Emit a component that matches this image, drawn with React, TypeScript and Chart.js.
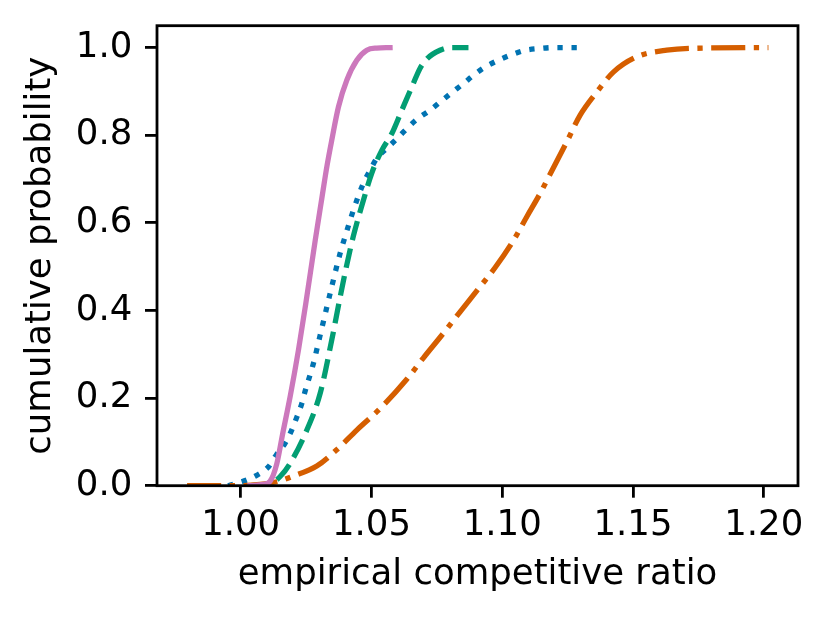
import { useEffect, useRef } from 'react'
import { Chart, registerables } from 'chart.js'

Chart.register(...registerables)

const xTicks = [1.0, 1.05, 1.1, 1.15, 1.2]
const yTicks = [0, 0.2, 0.4, 0.6, 0.8, 1.0]

// pink, solid
const solidX = [1.0036, 1.0086, 1.0112, 1.0138, 1.016, 1.0189, 1.0221, 1.025, 1.0285, 1.031, 1.033, 1.0348, 1.0374, 1.0406, 1.0444, 1.0482, 1.052, 1.0571]
const solidY = [0, 0.003, 0.01, 0.05, 0.117, 0.203, 0.31, 0.42, 0.56, 0.655, 0.73, 0.788, 0.865, 0.926, 0.971, 0.994, 0.999, 1.0]

// green, dashed
const dashedX = [1.0036, 1.0112, 1.0151, 1.0189, 1.0253, 1.0304, 1.0348, 1.038, 1.0406, 1.0431, 1.0469, 1.0501, 1.054, 1.0578, 1.0616, 1.066, 1.0686, 1.0713, 1.0762, 1.0801, 1.0871]
const dashedY = [0, 0.004, 0.021, 0.051, 0.127, 0.211, 0.332, 0.43, 0.505, 0.57, 0.651, 0.713, 0.766, 0.804, 0.857, 0.918, 0.953, 0.975, 0.994, 1.0, 1.0]

// blue, dotted
const dottedX = [0.9952, 1.0023, 1.0062, 1.0106, 1.0138, 1.017, 1.0195, 1.0215, 1.0234, 1.0246, 1.0278, 1.0304, 1.0342, 1.038, 1.0399, 1.0431, 1.0469, 1.0495, 1.052, 1.0559, 1.0597, 1.0635, 1.0673, 1.0724, 1.0763, 1.0807, 1.0852, 1.089, 1.0935, 1.0985, 1.1037, 1.1088, 1.1145, 1.1196, 1.1298]
const dottedY = [0, 0.013, 0.024, 0.043, 0.072, 0.097, 0.127, 0.157, 0.188, 0.215, 0.279, 0.344, 0.439, 0.53, 0.568, 0.629, 0.69, 0.72, 0.747, 0.77, 0.792, 0.815, 0.836, 0.857, 0.876, 0.897, 0.918, 0.937, 0.956, 0.971, 0.984, 0.994, 0.998, 1.0, 1.0]

// orange, dash-dot
const dashDotX = [0.9795, 0.9998, 1.0074, 1.0138, 1.0202, 1.0291, 1.0367, 1.0444, 1.0533, 1.0635, 1.0699, 1.0775, 1.0839, 1.0915, 1.0973, 1.1043, 1.1094, 1.1145, 1.1171, 1.1247, 1.1298, 1.1362, 1.1425, 1.1515, 1.1629, 1.1782, 1.2018]
const dashDotY = [0, 0, 0.003, 0.009, 0.022, 0.045, 0.082, 0.127, 0.176, 0.243, 0.292, 0.348, 0.397, 0.454, 0.498, 0.56, 0.614, 0.667, 0.697, 0.785, 0.846, 0.899, 0.944, 0.979, 0.994, 0.999, 1.0]

const toPoints = (xs: number[], ys: number[]) => xs.map((x, i) => ({ x, y: ys[i] }))

const font = { family: 'DejaVu Sans', size: 35.5, lineHeight: 1.2 }
const LW = 5.3

// matplotlib-like box around the axes
const framePlugin = {
  id: 'frame',
  afterDraw(chart: Chart) {
    const { ctx, chartArea: a } = chart
    ctx.save()
    ctx.strokeStyle = '#000'
    ctx.lineWidth = 2.8
    ctx.strokeRect(a.left, a.top, a.right - a.left, a.bottom - a.top)
    ctx.restore()
  },
}

export default function App() {
  const canvasRef = useRef<HTMLCanvasElement | null>(null)

  useEffect(() => {
    if (!canvasRef.current) return
    const chart = new Chart(canvasRef.current, {
      type: 'line',
      data: {
        datasets: [
          {
            data: toPoints(solidX, solidY),
            borderColor: '#cc78bc',
            borderWidth: LW,
            borderCapStyle: 'square',
            borderJoinStyle: 'round',
          },
          {
            data: toPoints(dashDotX, dashDotY),
            borderColor: '#d55e00',
            borderWidth: LW,
            borderDash: [34.1, 8.5, 5.3, 8.5],
            borderCapStyle: 'butt',
          },
          {
            data: toPoints(dashedX, dashedY),
            borderColor: '#029e73',
            borderWidth: LW,
            borderDash: [19.7, 8.5],
            borderCapStyle: 'butt',
          },
          {
            data: toPoints(dottedX, dottedY),
            borderColor: '#0173b2',
            borderWidth: LW,
            borderDash: [5.3, 8.8],
            borderCapStyle: 'butt',
          },
        ],
      },
      options: {
        responsive: false,
        animation: false,
        events: [],
        layout: { padding: { left: 0, top: 25.7, right: 32, bottom: 0 } },
        elements: {
          point: { radius: 0 },
          line: { tension: 0, cubicInterpolationMode: 'monotone', fill: false },
        },
        plugins: {
          legend: { display: false },
          tooltip: { enabled: false },
        },
        scales: {
          x: {
            type: 'linear',
            min: 0.968,
            max: 1.2131,
            border: { display: false },
            grid: { drawOnChartArea: false, drawTicks: true, tickLength: 12, color: '#000', lineWidth: 2.8 },
            ticks: {
              font,
              color: '#000',
              padding: 6.7,
              maxRotation: 0,
              autoSkip: false,
              callback: (v) => Number(v).toFixed(2),
            },
            afterBuildTicks: (s) => {
              s.ticks = xTicks.map((value) => ({ value }))
            },
            afterFit: (s) => {
              s.height = 621 - 485.7
              s.paddingLeft = 0
              s.paddingRight = 0
            },
            title: {
              display: true,
              text: 'empirical competitive ratio',
              font,
              color: '#000',
              padding: { top: 0, bottom: 24.7 },
            },
          },
          y: {
            type: 'linear',
            min: 0,
            max: 1.05,
            border: { display: false },
            grid: { drawOnChartArea: false, drawTicks: true, tickLength: 12, color: '#000', lineWidth: 2.8 },
            ticks: {
              font,
              color: '#000',
              padding: 12.7,
              autoSkip: false,
              callback: (v) => Number(v).toFixed(1),
            },
            afterBuildTicks: (s) => {
              s.ticks = yTicks.map((value) => ({ value }))
            },
            afterFit: (s) => {
              s.width = 157
              s.paddingTop = 0
              s.paddingBottom = 0
            },
            title: {
              display: true,
              text: 'cumulative probability',
              font,
              color: '#000',
              padding: { top: 19.7, bottom: 0 },
            },
          },
        },
      },
      plugins: [framePlugin],
    })
    return () => chart.destroy()
  }, [])

  return (
    <div style={{ position: 'absolute', left: 0, top: 0, width: 830, height: 621, background: '#fff' }}>
      <canvas ref={canvasRef} width={830} height={621} style={{ display: 'block' }} />
    </div>
  )
}
